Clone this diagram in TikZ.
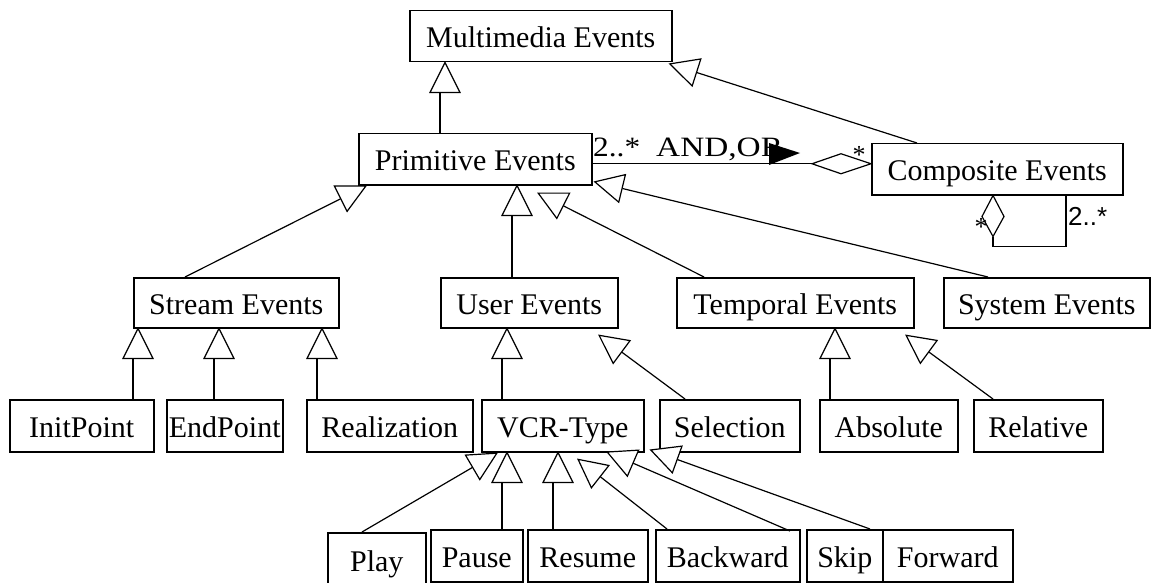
\documentclass[tikz,border=0pt]{standalone}
\usepackage{fontspec}
\setmainfont{Liberation Serif}
\newfontfamily\lsans{Liberation Sans}
\usetikzlibrary{arrows.meta}
\newcommand{\boxfont}{\fontsize{30}{34}\selectfont}
\newcommand{\lblfont}{\fontsize{26}{30}\selectfont}
\newcommand{\rolefont}{\fontsize{28}{32}\selectfont}
% #1 child point, #2 parent node, #3 name of apex coordinate
\newcommand{\mkgen}[3]{%
  \path (#1 |- #2.south) coordinate (#3);
  \draw[gline] (#1) -- ([yshift=-30pt]#3);
  \draw[gtri] ([xshift=5pt]#3) -- ++(-15,30) -- ++(30,0) -- cycle;}
\tikzset{
  box/.style={draw, line width=1.5pt, inner sep=0pt, anchor=north west,
    text height=23pt, text depth=0pt, font=\boxfont},
  gline/.style={draw, line width=1.2pt},
  gtri/.style={draw, fill=white, line width=1.2pt, line join=miter},
  dgen/.style={draw, line width=1.2pt, -{Triangle[length=30pt,width=30pt,fill=white]}},
  aline/.style={draw, line width=1.2pt},
  lbl/.style={inner sep=0pt, font=\lblfont}
}
\begin{document}
\begin{tikzpicture}[x=1pt,y=-1pt]
\useasboundingbox (0,0) rectangle (1151,583);
\fill[white] (0,0) rectangle (1151,583);

% boxes
\node[box, minimum width=262pt, minimum height=51pt] (mm) at (409,10) {Multimedia Events};
\node[box, minimum width=233pt, minimum height=51pt] (prim) at (358,133) {Primitive Events};
\node[box, minimum width=251pt, minimum height=51pt] (comp) at (871,143) {Composite Events};
\node[box, minimum width=205pt, minimum height=50pt] (stream) at (133,277) {Stream Events};
\node[box, minimum width=177pt, minimum height=50pt] (user) at (440,277) {User Events};
\node[box, minimum width=237pt, minimum height=50pt] (temp) at (676,277) {Temporal Events};
\node[box, minimum width=206pt, minimum height=50pt] (sys) at (943,277) {System Events};
\node[box, minimum width=144pt, minimum height=52pt] (init) at (9,399) {InitPoint};
\node[box, minimum width=116pt, minimum height=52pt] (endp) at (166,399) {EndPoint};
\node[box, minimum width=166pt, minimum height=52pt] (real) at (306,399) {Realization};
\node[box, minimum width=162pt, minimum height=52pt] (vcr) at (481,399) {VCR-Type};
\node[box, minimum width=140pt, minimum height=52pt] (sel) at (659,399) {Selection};
\node[box, minimum width=138pt, minimum height=52pt] (abs) at (819,399) {Absolute};
\node[box, minimum width=129pt, minimum height=52pt] (rel) at (973,399) {Relative};
\node[box, minimum width=98pt, minimum height=54pt] (play) at (327,532) {Play};
\node[box, minimum width=92pt, minimum height=52pt] (pause) at (430,529) {Pause};
\node[box, minimum width=120pt, minimum height=52pt] (resume) at (527,529) {Resume};
\node[box, minimum width=144pt, minimum height=52pt] (back) at (655,529) {Backward};
\node[box, minimum width=76pt, minimum height=52pt] (skip) at (806,529) {Skip};
\node[box, minimum width=130pt, minimum height=52pt] (fwd) at (882,529) {Forward};

% vertical generalizations
\coordinate (cPrim) at ([xshift=82pt]prim.north west);
\mkgen{cPrim}{mm}{tPrim}
\coordinate (cInit) at ([xshift=124pt]init.north west);
\mkgen{cInit}{stream}{tInit}
\coordinate (cEnd) at ([xshift=48pt]endp.north west);
\mkgen{cEnd}{stream}{tEnd}
\coordinate (cReal) at ([xshift=11pt]real.north west);
\mkgen{cReal}{stream}{tReal}
\coordinate (cUser) at ([xshift=72pt]user.north west);
\mkgen{cUser}{prim}{tUser}
\coordinate (cVcr) at ([xshift=21pt]vcr.north west);
\mkgen{cVcr}{user}{tVcr}
\coordinate (cAbs) at ([xshift=11pt]abs.north west);
\mkgen{cAbs}{temp}{tAbs}
\coordinate (cPause) at ([xshift=72pt]pause.north west);
\mkgen{cPause}{vcr}{tPause}
\coordinate (cRes) at ([xshift=26pt]resume.north west);
\mkgen{cRes}{vcr}{tRes}

% diagonal generalizations
\draw[dgen] ([xshift=52pt]stream.north west) -- ([xshift=9pt]prim.south west);
\draw[dgen] ([xshift=28pt]temp.north west) -- ([xshift=179pt,yshift=-7pt]prim.south west);
\draw[dgen] ([xshift=45pt]sys.north west) -- ([xshift=1pt,yshift=4pt]prim.south east);
\draw[dgen] ([xshift=46pt]comp.north west) -- ([xshift=-4pt,yshift=-1pt]mm.south east);
\draw[dgen] ([xshift=26pt]sel.north west) -- ([xshift=158pt,yshift=-6pt]user.south west);
\draw[dgen] ([xshift=20pt]rel.north west) -- ([xshift=229pt,yshift=-6pt]temp.south west);
\draw[dgen] ([xshift=35pt]play.north west) -- ([xshift=17pt]vcr.south west);
\draw[dgen] ([xshift=12pt]back.north west) -- ([xshift=96pt,yshift=-6pt]vcr.south west);
\draw[dgen] ([xshift=-16pt,yshift=-2pt]skip.north west) -- ([xshift=125pt,yshift=1pt]vcr.south west);
\draw[dgen] ([xshift=-12pt]fwd.north west) -- ([xshift=5pt,yshift=3pt]vcr.south east);

% aggregation Primitive -- Composite
\coordinate (dR) at ([yshift=5.5pt]comp.west);
\draw[aline] (dR) -- ++(-30,-10) -- ++(-29,10) coordinate (dL) -- ++(29,10) -- cycle;
\draw[aline] ([yshift=-4.5pt]prim.east) -- (dL);
\node[lbl, font=\rolefont, anchor=base west] (mult) at (593,157) {\scalebox{1.12}[1]{2..*}};
\node[lbl, font=\rolefont, anchor=base west] (role) at (656,157) {\scalebox{1.19}[1]{AND,OR}};
\fill (769,143) -- (800,153) -- (769,165) -- cycle;
\node[lbl, anchor=base] (star1) at (859,164) {*};

% self aggregation on Composite
\coordinate (sT) at ([xshift=122pt]comp.south west);
\draw[aline] (sT) -- ++(11,21) -- ++(-11,20) coordinate (sB) -- ++(-11,-20) -- cycle;
\draw[aline] (sB) |- ([xshift=195pt,yshift=-51pt]comp.south west) -- ([xshift=195pt]comp.south west);
\node[lbl, anchor=base] (star2) at (981,235) {*};
\node[inner sep=0pt, font=\lsans\lblfont, anchor=base west] (mult2) at (1068,225) {2..*};
\end{tikzpicture}
\end{document}
